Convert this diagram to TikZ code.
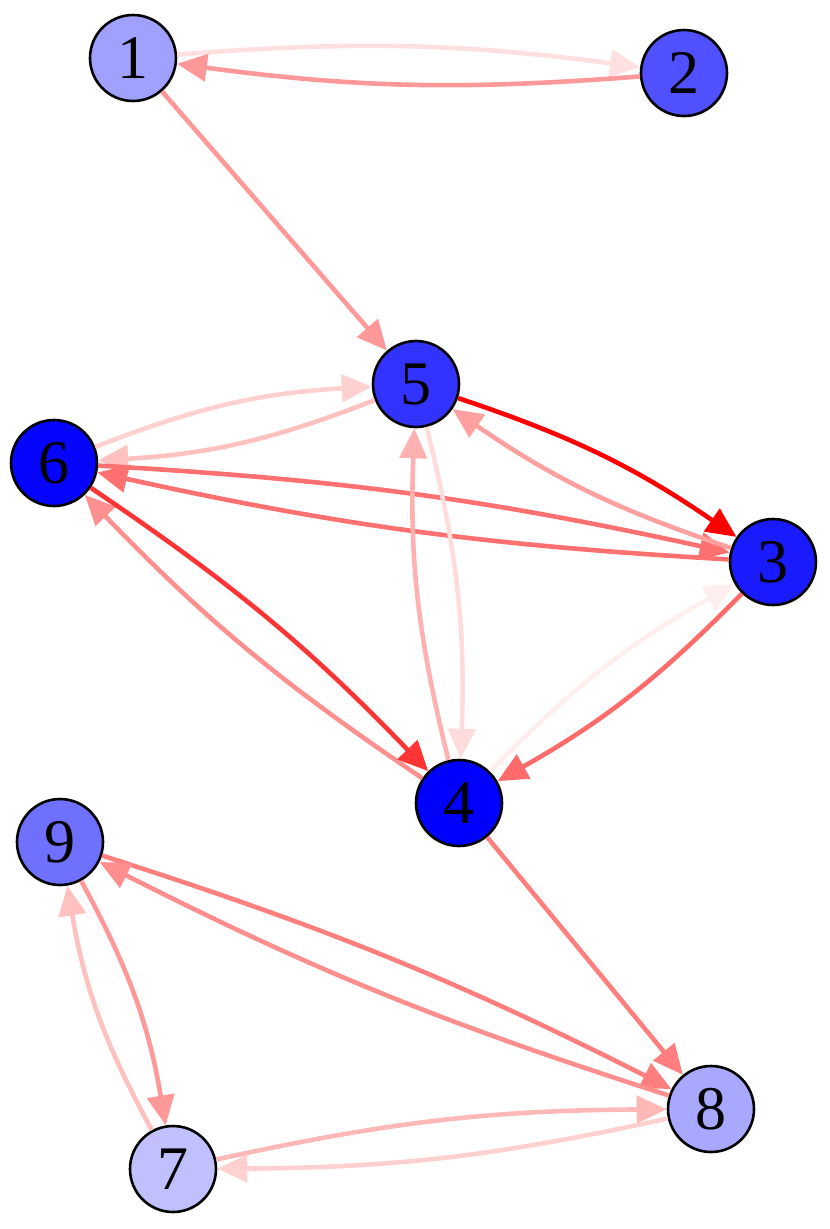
\documentclass[tikz,border=0pt]{standalone}
\usepackage{fontspec}
\setmainfont{Liberation Serif}
\usetikzlibrary{arrows.meta}
\definecolor{n1}{HTML}{A0A0FF}
\definecolor{n2}{HTML}{5050FF}
\definecolor{n3}{HTML}{1A1AFF}
\definecolor{n4}{HTML}{0000FF}
\definecolor{n5}{HTML}{3333FF}
\definecolor{n6}{HTML}{0505FF}
\definecolor{n7}{HTML}{C0C0FF}
\definecolor{n8}{HTML}{A8A8FF}
\definecolor{n9}{HTML}{7070FF}
\definecolor{e12}{HTML}{FFE0E0}
\definecolor{e21}{HTML}{FF9999}
\definecolor{e15}{HTML}{FF9999}
\definecolor{e53}{HTML}{FF0000}
\definecolor{e35}{HTML}{FFA0A0}
\definecolor{e65}{HTML}{FFD0D0}
\definecolor{e56}{HTML}{FFC0C0}
\definecolor{e63}{HTML}{FF7070}
\definecolor{e36}{HTML}{FF7070}
\definecolor{e64}{HTML}{FF3535}
\definecolor{e46}{HTML}{FF9090}
\definecolor{e45}{HTML}{FFB0B0}
\definecolor{e54}{HTML}{FFDCDC}
\definecolor{e43}{HTML}{FFEEEE}
\definecolor{e34}{HTML}{FF6A6A}
\definecolor{e48}{HTML}{FF7F7F}
\definecolor{e98}{HTML}{FF7F7F}
\definecolor{e89}{HTML}{FF8F8F}
\definecolor{e97}{HTML}{FF9999}
\definecolor{e79}{HTML}{FFC0C0}
\definecolor{e78}{HTML}{FFB8B8}
\definecolor{e87}{HTML}{FFD0D0}
\tikzset{
  vtx/.style={circle, draw=black, line width=2.6pt, minimum size=86pt, inner sep=0pt,
    font=\fontsize{62}{62}\selectfont},
  edge/.style={line width=4.6pt, -{Triangle[length=30pt,width=27pt]}}
}
\begin{document}
\begin{tikzpicture}[x=1pt,y=1pt]
\useasboundingbox (0,0) rectangle (830,-1229);
\node[vtx, fill=n1] (v1) at (133,-58) {1};
\node[vtx, fill=n2] (v2) at (684,-73) {2};
\node[vtx, fill=n5] (v5) at (416,-384) {5};
\node[vtx, fill=n6] (v6) at (54,-463) {6};
\node[vtx, fill=n3] (v3) at (773,-562) {3};
\node[vtx, fill=n4] (v4) at (459,-803) {4};
\node[vtx, fill=n9] (v9) at (60,-842) {9};
\node[vtx, fill=n8] (v8) at (711,-1109) {8};
\node[vtx, fill=n7] (v7) at (173,-1169) {7};
\draw[edge, e12] (v1) to[bend left=6] (v2);
\draw[edge, e21] (v2) to[bend left=6] (v1);
\draw[edge, e15] (v1) -- (v5);
\draw[edge, e65] (v6) to[bend left=9] (v5);
\draw[edge, e56] (v5) to[bend left=9] (v6);
\draw[edge, e63] (v6) to[bend left=4.5] (v3);
\draw[edge, e36] (v3) to[bend left=4.5] (v6);
\draw[edge, e35] (v3) to[bend left=8] (v5);
\draw[edge, e53] (v5) to[bend left=8] (v3);
\draw[edge, e46] (v4) to[bend left=6] (v6);
\draw[edge, e64] (v6) to[bend left=6] (v4);
\draw[edge, e45] (v4) to[bend left=8] (v5);
\draw[edge, e54] (v5) to[bend left=8] (v4);
\draw[edge, e43] (v4) to[bend left=8] (v3);
\draw[edge, e34] (v3) to[bend left=8] (v4);
\draw[edge, e48] (v4) -- (v8);
\draw[edge, e98] (v9) to[bend left=4.5] (v8);
\draw[edge, e89] (v8) to[bend left=4.5] (v9);
\draw[edge, e97] (v9) to[bend left=9.5] (v7);
\draw[edge, e79] (v7) to[bend left=9.5] (v9);
\draw[edge, e78] (v7) to[bend left=6] (v8);
\draw[edge, e87] (v8) to[bend left=6] (v7);
\end{tikzpicture}
\end{document}
